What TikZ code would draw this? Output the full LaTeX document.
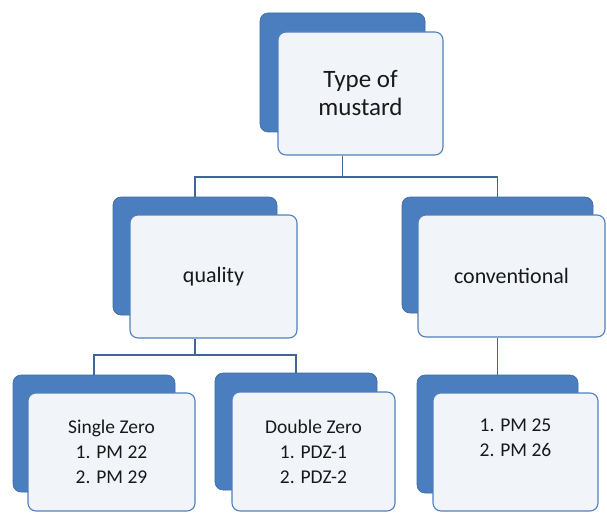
\documentclass[tikz,border=0pt]{standalone}
\usepackage{fontspec}
\setmainfont{Carlito}
\definecolor{backblue}{HTML}{4A7EBE}
\definecolor{frontedge}{HTML}{4F81BD}
\definecolor{frontfill}{HTML}{F1F4F9}
\definecolor{linkblue}{HTML}{3F6696}
\tikzset{
  backbox/.style={draw=backblue!85!black, line width=0.6pt, fill=backblue, rounded corners=8pt, inner sep=0pt},
  frontbox/.style={draw=frontedge, line width=1.1pt, fill=frontfill, rounded corners=8pt, inner sep=0pt, align=center, text=black!90},
  link/.style={draw=linkblue, line width=1.3pt},
}
\begin{document}
\begin{tikzpicture}[x=1pt,y=-1pt]
\useasboundingbox (0,0) rectangle (607,513);
% top
\node[backbox, minimum width=165pt, minimum height=119pt] (tb) at (342.5,72.5) {};
\node[frontbox, minimum width=165pt, minimum height=123pt, font=\fontsize{25}{28}\selectfont] (t) at (360.5,93.5) {Type of\\mustard};
% level 2
\node[backbox, minimum width=164pt, minimum height=118pt] (qb) at (195,256) {};
\node[frontbox, minimum width=167pt, minimum height=123pt, font=\fontsize{22}{26}\selectfont] (q) at (213.5,276.5) {quality};
\node[backbox, minimum width=191pt, minimum height=116pt] (cb) at (497.5,255) {};
\node[frontbox, minimum width=187pt, minimum height=122pt, font=\fontsize{22}{26}\selectfont] (c) at (511.5,276) {conventional};
% level 3
\node[backbox, minimum width=162pt, minimum height=117pt] (sb) at (94,433.5) {};
\node[frontbox, minimum width=167pt, minimum height=118pt, font=\fontsize{19.5}{25}\selectfont] (s) at (111.5,452) {Single Zero\\1. PM 22\\2. PM 29};
\node[backbox, minimum width=162pt, minimum height=117pt] (db) at (296,431.5) {};
\node[frontbox, minimum width=163pt, minimum height=119pt, font=\fontsize{19.5}{25}\selectfont] (d) at (313.5,451.5) {Double Zero\\1. PDZ-1\\2. PDZ-2};
\node[backbox, minimum width=161pt, minimum height=118pt] (ccb) at (497.5,434) {};
\node[frontbox, minimum width=165pt, minimum height=118pt, font=\fontsize{19.5}{25}\selectfont] (cc) at (515.5,452) {1. PM 25\\2. PM 26\\[4pt]};
% connectors
\coordinate (j1) at (342.5,177);
\coordinate (j2) at (195,355);
\draw[link] (tb.south |- t.south) -- (j1);
\draw[link] (j1) -| (qb.north);
\draw[link] (j1) -| (cb.north);
\draw[link] (qb.south |- q.south) -- (j2);
\draw[link] (j2) -| (sb.north);
\draw[link] (j2) -| (db.north);
\draw[link] (cb.south |- c.south) -- (ccb.north);
\end{tikzpicture}
\end{document}
